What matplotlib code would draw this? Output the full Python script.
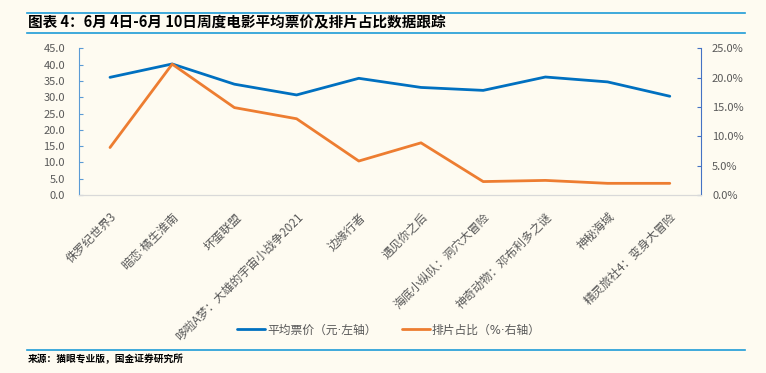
import matplotlib
matplotlib.use("Agg")
import matplotlib.pyplot as plt
from matplotlib.lines import Line2D
from matplotlib.ticker import FuncFormatter

plt.rcParams['font.family'] = ['Noto Sans CJK SC', 'DejaVu Sans']

films = ["侏罗纪世界3", "暗恋·橘生淮南", "坏蛋联盟", "哆啦A梦：大雄的宇宙小战争2021",
         "边缘行者", "遇见你之后", "海底小纵队：洞穴大冒险", "神奇动物：邓布利多之谜",
         "神秘海域", "精灵旅社4：变身大冒险"]
avg_price = [36.1, 40.2, 34.0, 30.7, 35.8, 33.0, 32.1, 36.2, 34.7, 30.3]
screen_share = [8.1, 22.3, 14.9, 13.0, 5.8, 8.9, 2.3, 2.5, 2.0, 2.0]

bg = '#FEFBF1'
blue = '#0070C0'
orange = '#ED7D31'
gray = '#595959'
rule = '#1E9BD7'
dot_fonts = ['DejaVu Sans', 'Noto Sans CJK SC']  # narrow middle dot

fig = plt.figure(figsize=(7.66, 3.73), dpi=100, facecolor=bg)
ax = fig.add_axes([0.103, 0.477, 0.812, 0.3935], facecolor=bg)
ax2 = ax.twinx()

x = list(range(len(films)))
l1, = ax.plot(x, avg_price, color=blue, lw=2.0, solid_capstyle='round', label="平均票价（元·左轴）")
l2, = ax2.plot(x, screen_share, color=orange, lw=2.0, solid_capstyle='round', label="排片占比（%·右轴）")

ax.set_xlim(-0.5, len(films) - 0.5)
ax.set_ylim(0, 45)
ax.set_yticks([i * 5 for i in range(10)])
ax.yaxis.set_major_formatter(FuncFormatter(lambda v, p: f"{v:.1f}"))
ax2.set_ylim(0, 25)
ax2.set_yticks([i * 5 for i in range(6)])
ax2.yaxis.set_major_formatter(FuncFormatter(lambda v, p: f"{v:.1f}%"))

for a in (ax, ax2):
    a.spines['top'].set_visible(False)
    a.spines['bottom'].set_color('#D9D9D9')
ax.spines['left'].set_color('#5B9BD5')
ax.spines['right'].set_visible(False)
ax2.spines['left'].set_visible(False)
ax2.spines['right'].set_color('#4472C4')

ax.tick_params(axis='y', direction='in', length=3, color='#5B9BD5', pad=10, labelsize=8, labelcolor=gray)
ax2.tick_params(axis='y', direction='in', length=3, color='#4472C4', pad=8, labelsize=8, labelcolor=gray)
ax.set_xticks(x)
ax.set_xticklabels(films, rotation=45, ha='right', va='top', rotation_mode='anchor',
                   fontsize=8.5, color=gray)
for t in ax.get_xticklabels():
    if '·' in t.get_text():
        t.set_fontfamily(dot_fonts)
ax.tick_params(axis='x', length=0, pad=11)

fig.legend([l1, l2], [l1.get_label(), l2.get_label()], loc='center', bbox_to_anchor=(0.508, 0.115),
           ncol=2, frameon=False, prop={'size': 8.5, 'family': dot_fonts}, handlelength=2.3,
           handletextpad=0.2, columnspacing=2.2, labelcolor=gray)

# title block
fig.add_artist(Line2D([0.035, 0.973], [0.966, 0.966], color=rule, lw=1.2))
fig.add_artist(Line2D([0.035, 0.973], [0.911, 0.911], color=rule, lw=1.2))
fig.text(0.037, 0.940, "图表 4：6月 4日-6月 10日周度电影平均票价及排片占比数据跟踪", fontsize=10.5,
         fontweight='bold', va='center', ha='left', color='black')

# source
fig.add_artist(Line2D([0.035, 0.973], [0.061, 0.061], color=rule, lw=1.2))
fig.text(0.036, 0.037, "来源：猫眼专业版，国金证券研究所", fontsize=7, fontweight='bold',
         va='center', ha='left', color='black')

fig.savefig("out.png", dpi=100, facecolor=bg)
